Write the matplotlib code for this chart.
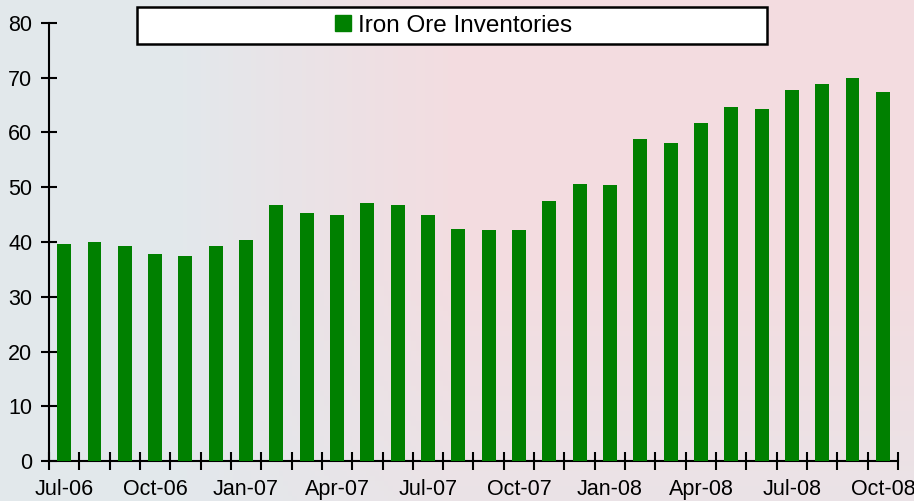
import numpy as np
import matplotlib
matplotlib.use('Agg')
import matplotlib.pyplot as plt
from matplotlib.patches import Patch, Rectangle

meses = ['Jul-06', 'Aug-06', 'Sep-06', 'Oct-06', 'Nov-06', 'Dec-06',
         'Jan-07', 'Feb-07', 'Mar-07', 'Apr-07', 'May-07', 'Jun-07',
         'Jul-07', 'Aug-07', 'Sep-07', 'Oct-07', 'Nov-07', 'Dec-07',
         'Jan-08', 'Feb-08', 'Mar-08', 'Apr-08', 'May-08', 'Jun-08',
         'Jul-08', 'Aug-08', 'Sep-08', 'Oct-08']
estoques = [39.7, 40.0, 39.3, 37.8, 37.5, 39.3,
            40.4, 46.8, 45.3, 45.0, 47.2, 46.8,
            45.0, 42.3, 42.2, 42.2, 47.5, 50.6,
            50.4, 58.8, 58.0, 61.8, 64.7, 64.3,
            67.8, 68.8, 70.0, 67.4]
yticks = [0, 10, 20, 30, 40, 50, 60, 70, 80]

plt.rcParams['font.family'] = ['Liberation Sans', 'DejaVu Sans']

fig = plt.figure(figsize=(9.14, 5.01), dpi=100)

# fundo esmaecido (azul-acinzentado a esquerda, rosado no centro)
bg = fig.add_axes([0, 0, 1, 1], zorder=-10)
h, w = 100, 200
xx = np.linspace(0, 1, w)[None, :]
yy = np.linspace(0, 1, h)[:, None]
azul = np.array([0.89, 0.91, 0.925])
rosa = np.array([0.955, 0.865, 0.88])
t = np.clip((xx - 0.2) / 0.3, 0, 1) * (1 - 0.55 * np.clip((yy - 0.55) / 0.45, 0, 1))
img = azul[None, None, :] * (1 - t[..., None]) + rosa[None, None, :] * t[..., None]
bg.imshow(img, aspect='auto', extent=[0, 1, 0, 1], origin='upper')
bg.axis('off')

ax = fig.add_axes([49 / 914, 1 - 461 / 501, (898 - 49) / 914, (461 - 23) / 501])
ax.patch.set_alpha(0)
x = np.arange(len(meses))
ax.bar(x, estoques, width=0.46, color='#008000', zorder=3)

ax.set_xlim(-0.5, len(meses) - 0.5)
ax.set_ylim(0, 80)
ax.set_yticks(yticks)
ax.set_xticks(np.arange(len(meses) + 1) - 0.5)
ax.set_xticklabels([])
ax.set_xticks(x[::3], minor=True)
ax.set_xticklabels(meses[::3], minor=True)
ax.tick_params(axis='x', which='major', direction='inout', length=13, width=1.5)
ax.tick_params(axis='x', which='minor', length=0, pad=13, labelsize=15.5)
ax.tick_params(axis='y', direction='inout', length=12, width=1.5, pad=6, labelsize=15.5)
for s in ['top', 'right']:
    ax.spines[s].set_visible(False)
for s in ['left', 'bottom']:
    ax.spines[s].set_linewidth(1.5)

# caixa da legenda
x0, y0, x1, y1 = 137 / 914, 1 - 44 / 501, 767 / 914, 1 - 7 / 501
fig.patches.append(Rectangle((x0, y0), x1 - x0, y1 - y0, transform=fig.transFigure,
                             facecolor='white', edgecolor='black', linewidth=1.8, zorder=5))
leg = fig.legend(handles=[Patch(color='#008000', label='Iron Ore Inventories')],
                 loc='center', bbox_to_anchor=((x0 + x1) / 2 + 2 / 914, (y0 + y1) / 2),
                 frameon=False, fontsize=17.5, handlelength=0.65, handleheight=0.65,
                 handletextpad=0.3)
leg.set_zorder(6)

plt.savefig('out.png', dpi=100)
